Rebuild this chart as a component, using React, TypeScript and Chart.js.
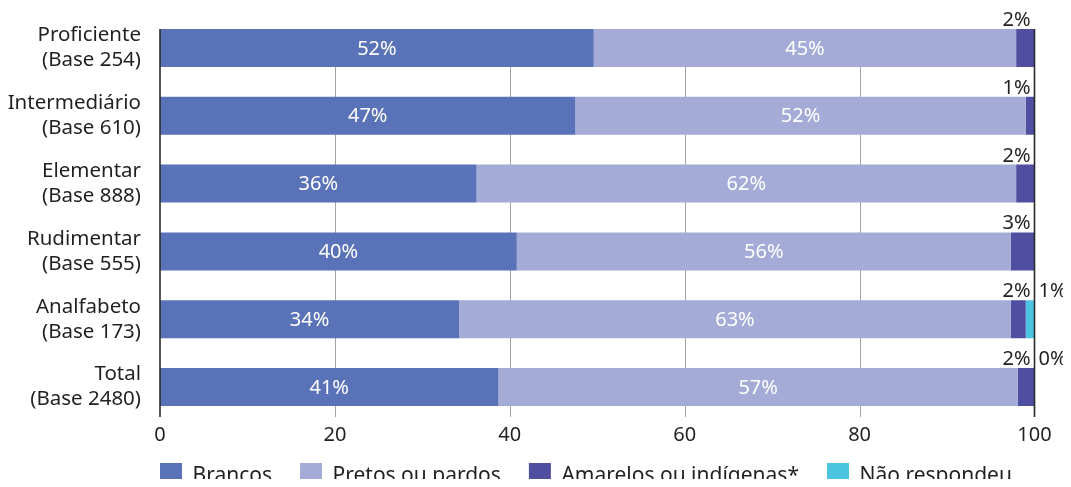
import React, { useEffect, useRef } from 'react';
import { Chart, registerables } from 'chart.js';

Chart.register(...registerables);

const FONT = '"Noto Sans", "Open Sans", sans-serif';

const categories: string[][] = [
  ['Proficiente', '(Base 254)'],
  ['Intermediário', '(Base 610)'],
  ['Elementar', '(Base 888)'],
  ['Rudimentar', '(Base 555)'],
  ['Analfabeto', '(Base 173)'],
  ['Total', '(Base 2480)'],
];

const seriesNames = ['Brancos', 'Pretos ou pardos', 'Amarelos ou indígenas*', 'Não respondeu'];
const seriesColors = ['#5a73b8', '#a3abd6', '#4f4ea0', '#4bc5df'];

// bar lengths
const brancos = [49.6, 47.5, 36.2, 40.8, 34.2, 38.7];
const pretos = [48.3, 51.5, 61.7, 56.5, 63.1, 59.4];
const amarelos = [2.1, 1.0, 2.1, 2.7, 1.7, 1.9];
const naoRespondeu = [0, 0, 0, 0, 1.0, 0];

// printed labels
const brancosLabels = ['52%', '47%', '36%', '40%', '34%', '41%'];
const pretosLabels = ['45%', '52%', '62%', '56%', '63%', '57%'];
const amarelosLabels = ['2%', '1%', '2%', '3%', '2%', '2%'];
const naoLabels = ['', '', '', '', '1%', '0%'];

const xMin = 0;
const xMax = 100;
const xStep = 20;

const seriesValues = [brancos, pretos, amarelos, naoRespondeu];
const seriesLabels = [brancosLabels, pretosLabels, amarelosLabels, naoLabels];

function drawGrid(chart: any, edges: boolean) {
  const xs = chart.scales.x;
  const meta = chart.getDatasetMeta(0);
  if (!meta.data.length) return;
  const first = meta.data[0];
  const top = first.y - first.height / 2;
  const bottom = chart.chartArea.bottom - 4;
  const ctx = chart.ctx;
  ctx.save();
  xs.ticks.forEach((t: any) => {
    const isEdge = t.value === xMin || t.value === xMax;
    if (isEdge !== edges) return;
    const px = xs.getPixelForValue(t.value);
    ctx.strokeStyle = isEdge ? '#2b2b2b' : '#a3a3a3';
    ctx.lineWidth = isEdge ? 1.6 : 1;
    const xx = isEdge ? px : Math.round(px) + 0.5;
    ctx.beginPath();
    ctx.moveTo(xx, top);
    ctx.lineTo(xx, bottom);
    ctx.stroke();
  });
  ctx.restore();
}

const gridPlugin = {
  id: 'customGrid',
  beforeDatasetsDraw(chart: any) {
    drawGrid(chart, false);
  },
  afterDatasetsDraw(chart: any) {
    drawGrid(chart, true);
  },
};

const labelPlugin = {
  id: 'barLabels',
  afterDatasetsDraw(chart: any) {
    const ctx = chart.ctx;
    const xs = chart.scales.x;
    const right = xs.getPixelForValue(xMax);
    ctx.save();
    ctx.font = `20px ${FONT}`;
    chart.data.datasets.forEach((_ds: any, di: number) => {
      const meta = chart.getDatasetMeta(di);
      const labels = seriesLabels[di];
      meta.data.forEach((bar: any, i: number) => {
        const txt = labels[i];
        if (!txt) return;
        const top = bar.y - bar.height / 2;
        if (di < 2) {
          ctx.fillStyle = '#ffffff';
          ctx.textAlign = 'center';
          ctx.textBaseline = 'middle';
          ctx.fillText(txt, (bar.x + bar.base) / 2, bar.y + 1);
        } else if (di === 2) {
          ctx.fillStyle = '#231f20';
          ctx.textAlign = 'right';
          ctx.textBaseline = 'alphabetic';
          ctx.fillText(txt, right - 4, top - 3);
        } else {
          ctx.fillStyle = '#231f20';
          ctx.textAlign = 'left';
          ctx.textBaseline = 'alphabetic';
          ctx.fillText(txt, right + 4, top - 3);
        }
      });
    });
    ctx.restore();
  },
};

const legendShiftPlugin = {
  id: 'legendShift',
  afterLayout(chart: any) {
    const lg = chart.legend;
    if (lg) {
      lg.left = chart.chartArea.left - lg.options.labels.padding;
      lg.right = chart.width;
      lg.top = chart.scales.x.bottom - 12;
    }
  },
};

export default function App() {
  const ref = useRef<HTMLCanvasElement>(null);

  useEffect(() => {
    if (!ref.current) return;
    Chart.defaults.font.family = FONT;
    const chart = new Chart(ref.current, {
      type: 'bar',
      data: {
        labels: categories,
        datasets: seriesNames.map((name, i) => ({
          label: name,
          data: seriesValues[i],
          backgroundColor: seriesColors[i],
          borderWidth: 0,
          categoryPercentage: 1,
          barPercentage: 0.56,
        })),
      },
      options: {
        indexAxis: 'y',
        responsive: true,
        maintainAspectRatio: false,
        animation: false,
        layout: { padding: { top: 6, right: 36.5, left: 0, bottom: 0 } },
        scales: {
          x: {
            stacked: true,
            min: xMin,
            max: xMax,
            grid: { display: false, drawTicks: false },
            border: { display: false },
            ticks: {
              stepSize: xStep,
              color: '#231f20',
              padding: 2,
              font: { size: 20, family: FONT, lineHeight: 1.2 },
            },
            afterFit: (scale: any) => {
              scale.height = 26;
            },
          },
          y: {
            stacked: true,
            grid: { display: false, drawTicks: false },
            border: { display: false },
            ticks: {
              color: '#231f20',
              padding: 19,
              font: { size: 20.5, family: FONT, lineHeight: 1.22 },
            },
            afterFit: (scale: any) => {
              scale.width = 152;
              scale.paddingTop = 0;
              scale.paddingBottom = 0;
            },
          },
        },
        plugins: {
          tooltip: { enabled: false },
          legend: {
            position: 'bottom',
            align: 'start',
            maxHeight: 40,
            labels: {
              boxWidth: 22,
              boxHeight: 26,
              padding: 28,
              color: '#231f20',
              font: { size: 21, family: FONT },
            },
          },
        },
      },
      plugins: [gridPlugin, labelPlugin, legendShiftPlugin],
    } as any);
    return () => chart.destroy();
  }, []);

  return (
    <div style={{ position: 'relative', width: 1063, height: 479, marginBottom: -8 }}>
      <canvas ref={ref} />
    </div>
  );
}
